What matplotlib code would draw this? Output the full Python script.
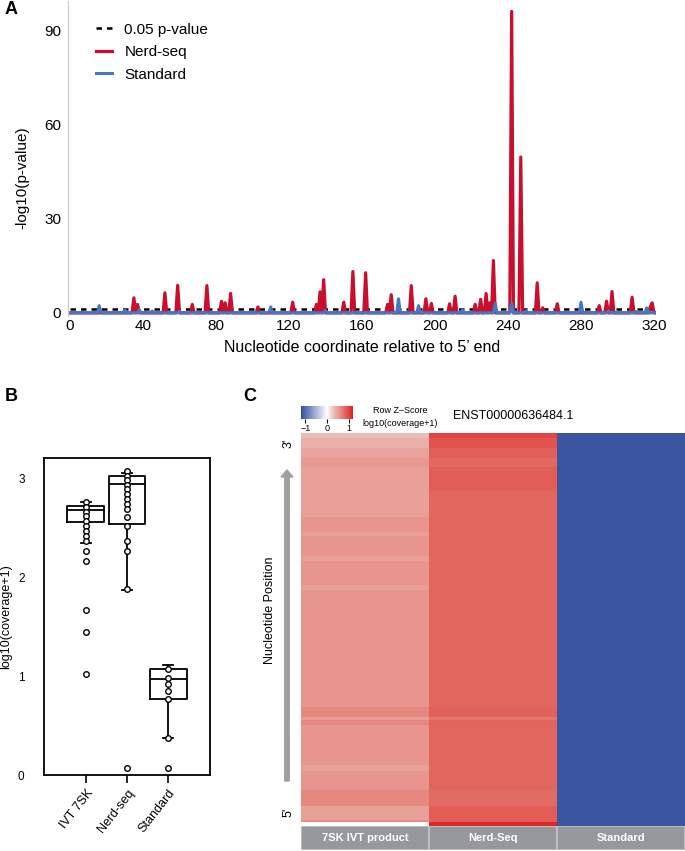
import numpy as np
import matplotlib
matplotlib.use('Agg')
import matplotlib.pyplot as plt
from matplotlib.colors import LinearSegmentedColormap, Normalize
from matplotlib.cm import ScalarMappable

plt.rcParams['font.family'] = ['Liberation Sans', 'DejaVu Sans']

# ---- panel A: -log10(p) per nucleotide (peaks, zero elsewhere)
nt_len = 322
nerd_pos = [35, 37, 52, 59, 67, 75, 83, 85, 88, 103, 122, 135, 137, 139, 150, 155, 162,
            174, 176, 187, 195, 198, 208, 211, 222, 225, 228, 230, 232, 242, 247, 256,
            259, 267, 290, 294, 297, 308, 318, 319]
nerd_val = [4.8, 2.7, 6.4, 8.8, 2.7, 8.7, 3.7, 3.2, 6.2, 1.9, 3.4, 2.7, 6.7, 10.6, 3.4, 13.2, 12.8,
            2.7, 5.8, 8.7, 4.5, 3.0, 2.9, 5.3, 2.7, 4.3, 6.2, 3.2, 16.7, 96.2, 49.7, 9.6,
            1.6, 2.9, 2.3, 3.7, 6.8, 5.0, 2.0, 3.2]
std_pos = [16, 30, 38, 45, 60, 110, 140, 180, 191, 215, 233, 242, 250, 280, 295, 310, 316]
std_val = [2.3, 1.0, 1.0, 0.6, 0.5, 1.9, 0.8, 4.5, 2.3, 0.9, 3.0, 3.0, 0.7, 3.4, 0.6, 0.5, 1.6]
p_cut = 1.30  # -log10(0.05)

# ---- panel B: box stats + points
groups = ['IVT 7SK', 'Nerd-seq', 'Standard']
q1 = [2.56, 2.54, 0.77]
med = [2.68, 2.94, 0.97]
q3 = [2.72, 3.02, 1.07]
whislo = [2.35, 1.87, 0.37]
whishi = [2.76, 3.05, 1.11]
pts_ivt = [2.76, 2.71, 2.66, 2.62, 2.57, 2.52, 2.47, 2.42, 2.37, 2.26, 2.16, 1.67, 1.45, 1.02]
pts_nerd = [3.07, 3.02, 2.98, 2.93, 2.89, 2.84, 2.79, 2.74, 2.69, 2.61, 2.52, 2.37, 2.26, 1.88, 0.07]
pts_std = [1.07, 0.98, 0.92, 0.85, 0.77, 0.37, 0.07]

# ---- panel C: row z-score stripes, 3' (top) to 5' (bottom)
seg_nt = [4, 9, 8, 8, 20, 22, 12, 4, 17, 4, 20, 4, 99, 8, 3, 4, 34, 5, 16, 13, 12, 2, 3]
seg_ivt = [0.30, 0.40, 0.48, 0.55, 0.50, 0.50, 0.58, 0.50, 0.58, 0.50, 0.58, 0.50, 0.58,
           0.65, 0.52, 0.65, 0.58, 0.50, 0.58, 0.65, 0.50, 0.62, 0.0]
seg_nerd = [1.0, 0.92, 0.86, 0.82, 0.88, 0.83, 0.83, 0.83, 0.83, 0.83, 0.83, 0.83, 0.83,
            0.85, 0.75, 0.84, 0.83, 0.83, 0.83, 0.80, 0.88, 0.88, 1.15]
seg_std = [-1.15] * len(seg_nt)
heat_cols = ['7SK IVT product', 'Nerd-Seq', 'Standard']

red = '#c8102e'
blue = '#4677c4'

W, H = 685, 851
fig = plt.figure(figsize=(W / 100, H / 100), dpi=100)


def box(l, t, r, b):
    return [l / W, 1 - b / H, (r - l) / W, (b - t) / H]


# ================= A
axA = fig.add_axes(box(68, 1, 656, 316))
nerd = np.zeros(nt_len)
nerd[nerd_pos] = nerd_val
std = np.zeros(nt_len)
std[std_pos] = std_val
x = np.arange(nt_len)
axA.plot([0, 320], [p_cut, p_cut], color='k', lw=1.8, ls=(0, (2.2, 2.0)), label='0.05 p-value')
axA.plot(x, nerd, color=red, lw=2.3, label='Nerd-seq', solid_joinstyle='round')
axA.plot(x, std, color=blue, lw=2.2, label='Standard', solid_joinstyle='round')
axA.set_xlim(-1.1, 321.1)
axA.set_ylim(-1, 99.5)
axA.set_xticks(range(0, 321, 40))
axA.set_yticks([0, 30, 60, 90])
axA.tick_params(length=0, labelsize=11, pad=5)
axA.tick_params(axis='x', pad=2)
for s in ['top', 'right', 'bottom']:
    axA.spines[s].set_visible(False)
axA.spines['left'].set_color('#c8c8c8')
axA.set_xlabel("Nucleotide coordinate relative to 5\u2019 end", fontsize=11.5, labelpad=5)
axA.set_ylabel('-log10(p-value)', fontsize=11)
axA.yaxis.set_label_coords(-0.066, 0.44)
axA.legend(loc='upper left', bbox_to_anchor=(0.035, 0.955), frameon=False, fontsize=11,
           handlelength=1.05, labelspacing=0.55, borderpad=0, handletextpad=0.8)

# ================= B
axB = fig.add_axes(box(44, 458, 210, 775))
stats = []
for i in range(3):
    stats.append(dict(med=med[i], q1=q1[i], q3=q3[i], whislo=whislo[i], whishi=whishi[i], fliers=[]))
lp = dict(color='k', lw=1.3)
axB.bxp(stats, positions=[1, 2, 3], widths=0.9, showfliers=False, boxprops=lp,
        medianprops=lp, whiskerprops=lp, capprops=lp, capwidths=0.25)
for i, pts in enumerate([pts_ivt, pts_nerd, pts_std]):
    axB.scatter([i + 1] * len(pts), pts, s=16, facecolor='white', edgecolor='k', lw=1.0, zorder=3)
axB.set_xlim(-0.02, 4.02)
axB.set_ylim(0.025, 3.205)
axB.set_yticks([0, 1, 2, 3])
axB.set_xticks([1, 2, 3])
axB.set_xticklabels(groups, rotation=52, ha='right', va='top', rotation_mode='anchor')
axB.tick_params(axis='y', length=0, labelsize=8.5, pad=14)
axB.tick_params(axis='x', length=6, width=1.2, labelsize=9, pad=3)
for s in axB.spines.values():
    s.set_linewidth(1.3)
axB.set_ylabel('log10(coverage+1)', fontsize=9, labelpad=4)

# ================= C
cmap = LinearSegmentedColormap.from_list('zs', [
    (0.0, '#2a4898'), (0.02, '#3b57a1'), (0.5, '#ffffff'), (0.625, '#ebbfb8'),
    (0.742, '#e8958e'), (0.846, '#e2675f'), (0.979, '#e0282a'), (1.0, '#dd1a22')])
norm = Normalize(-1.2, 1.2)
mat = np.column_stack([np.repeat(seg_ivt, seg_nt), np.repeat(seg_nerd, seg_nt),
                       np.repeat(seg_std, seg_nt)])
axC = fig.add_axes(box(301, 433, 685, 826))
axC.imshow(mat, cmap=cmap, norm=norm, aspect='auto', interpolation='nearest')
axC.axis('off')

# column label bar
axL = fig.add_axes(box(301, 826, 685, 850))
axL.bar(range(3), [1, 1, 1], width=1, color='#97989c', edgecolor='#c4c5c8', lw=1.2)
for i, lab in enumerate(heat_cols):
    axL.text(i, 0.5, lab, color='white', fontweight='bold', fontsize=8, ha='center', va='center')
axL.set_xlim(-0.5, 2.5)
axL.set_ylim(0, 1)
axL.axis('off')

# color key
axK = fig.add_axes(box(301, 406, 353, 419))
cb = fig.colorbar(ScalarMappable(norm=norm, cmap=cmap), cax=axK, orientation='horizontal', ticks=[-1, 0, 1])
cb.outline.set_visible(False)
axK.tick_params(labelsize=6.5, length=3, width=0.8, pad=0.5)
fig.text(400 / W, 1 - 411 / H, 'Row Z\u2013Score', fontsize=6.5, ha='center', va='center')
fig.text(400 / W, 1 - 423 / H, 'log10(coverage+1)', fontsize=6.5, ha='center', va='center')
fig.text(453 / W, 1 - 416 / H, 'ENST00000636484.1', fontsize=9, ha='left', va='center')

# position arrow
fig.text(289 / W, 1 - 443 / H, "3'", fontsize=9, rotation=90, ha='center', va='center')
fig.text(289 / W, 1 - 812 / H, "5'", fontsize=9, rotation=90, ha='center', va='center')
fig.text(270 / W, 1 - 610 / H, 'Nucleotide Position', fontsize=9, rotation=90, ha='center', va='center')
fig.patches.append(matplotlib.patches.FancyArrow(
    287 / W, 1 - 781 / H, 0, (781 - 470) / H, width=4.5 / W, head_width=12 / W,
    head_length=7 / H, length_includes_head=True, color='#a0a0a0', transform=fig.transFigure))

# panel letters
fig.text(5 / W, 1 - 10 / H, 'A', fontsize=13, fontweight='bold', va='center')
fig.text(5 / W, 1 - 397 / H, 'B', fontsize=13, fontweight='bold', va='center')
fig.text(243 / W, 1 - 397 / H, 'C', fontsize=13, fontweight='bold', va='center')

fig.savefig('out.png', dpi=100)
